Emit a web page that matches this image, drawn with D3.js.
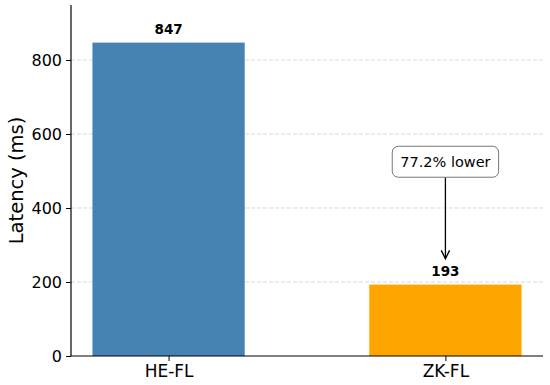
<!DOCTYPE html>
<html>
<head>
<meta charset="utf-8">
<script src="https://cdn.jsdelivr.net/npm/d3@7"></script>
<style>
  body { margin: 0; background: #fff; }
  text { font-family: "DejaVu Sans", sans-serif; }
</style>
</head>
<body>
<div id="chart"></div>
<script>
// data
var methods = ["HE-FL", "ZK-FL"];
var latency = [847, 193];
var barColors = ["#4682b4", "#ffa500"];
var yTicks = [0, 200, 400, 600, 800];
var noteText = "77.2% lower";

var margin = {top: 5, right: 7, bottom: 29, left: 71},
    width = 550 - margin.left - margin.right,
    height = 385 - margin.top - margin.bottom;

var svg = d3.select("#chart")
  .append("svg")
    .attr("width", width + margin.left + margin.right)
    .attr("height", height + margin.top + margin.bottom)
  .append("g")
    .attr("transform", "translate(" + margin.left + "," + margin.top + ")");

var barW = 0.55;
var x = d3.scaleLinear()
    .domain([-barW / 2 - 0.0775, methods.length - 1 + barW / 2 + 0.0775])
    .range([0, width]);
var y = d3.scaleLinear()
    .domain([0, d3.max(latency) * 1.12])
    .range([height, 0]);

// grid
svg.selectAll(".grid")
  .data(yTicks.slice(1))
  .enter().append("line")
    .attr("x1", 0).attr("x2", width)
    .attr("y1", function(d) { return y(d); })
    .attr("y2", function(d) { return y(d); })
    .attr("stroke", "#d0d0d0")
    .attr("stroke-width", 0.8)
    .attr("stroke-dasharray", "4,2");

// bars
svg.selectAll("rect.bar")
  .data(latency)
  .enter().append("rect")
    .attr("class", "bar")
    .attr("x", function(d, i) { return x(i - barW / 2); })
    .attr("width", x(barW) - x(0))
    .attr("y", function(d) { return y(d); })
    .attr("height", function(d) { return height - y(d); })
    .attr("fill", function(d, i) { return barColors[i]; });

// value labels
svg.selectAll(".val")
  .data(latency)
  .enter().append("text")
    .attr("x", function(d, i) { return x(i); })
    .attr("y", function(d) { return y(d) - 9; })
    .attr("text-anchor", "middle")
    .style("font-size", "13.5px")
    .style("font-weight", "bold")
    .text(function(d) { return d; });

// axes
var yAxis = svg.append("g")
    .call(d3.axisLeft(y).tickValues(yTicks).tickSize(5).tickPadding(4));
var xAxis = svg.append("g")
    .attr("transform", "translate(0," + height + ")")
    .call(d3.axisBottom(x).tickValues(d3.range(methods.length))
      .tickFormat(function(i) { return methods[i]; }).tickSize(5).tickPadding(4));

[xAxis, yAxis].forEach(function(a) {
  a.select(".domain").attr("stroke", "#000").attr("stroke-width", 1.2);
  a.selectAll(".tick line").attr("stroke", "#000").attr("stroke-width", 1);
  a.selectAll(".tick text").attr("fill", "#000")
    .style("font-family", "DejaVu Sans, sans-serif");
});
yAxis.selectAll(".tick text").style("font-size", "16px");
xAxis.selectAll(".tick text").style("font-size", "17px");
yAxis.select(".domain").attr("d", "M0," + height + "V0");
xAxis.select(".domain").attr("d", "M0,0H" + width);

// y label
svg.append("text")
    .attr("transform", "rotate(-90)")
    .attr("x", -height / 2)
    .attr("y", -48)
    .attr("text-anchor", "middle")
    .style("font-size", "19.5px")
    .text("Latency (ms)");

// annotation
var ax = x(1), boxMid = y(525);
svg.append("defs").append("marker")
    .attr("id", "arr")
    .attr("viewBox", "0 0 10 10")
    .attr("refX", 9).attr("refY", 5)
    .attr("markerWidth", 8).attr("markerHeight", 8)
    .attr("orient", "auto")
  .append("path")
    .attr("d", "M1,1 L9,5 L1,9")
    .attr("fill", "none")
    .attr("stroke", "#000")
    .attr("stroke-width", 1.3);

svg.append("line")
    .attr("x1", ax).attr("x2", ax)
    .attr("y1", boxMid + 15)
    .attr("y2", y(latency[1] + 70))
    .attr("stroke", "#000")
    .attr("stroke-width", 1.3)
    .attr("marker-end", "url(#arr)");

var noteBox = svg.append("rect")
    .attr("rx", 6)
    .attr("fill", "#fff")
    .attr("stroke", "#777")
    .attr("stroke-width", 1);
var note = svg.append("text")
    .attr("x", ax)
    .attr("y", boxMid)
    .attr("dy", "0.35em")
    .attr("text-anchor", "middle")
    .style("font-size", "14.5px")
    .text(noteText);
var bb = note.node().getBBox();
noteBox
    .attr("x", bb.x - 8).attr("y", boxMid - 15.5)
    .attr("width", bb.width + 16).attr("height", 31);
</script>
</body>
</html>
